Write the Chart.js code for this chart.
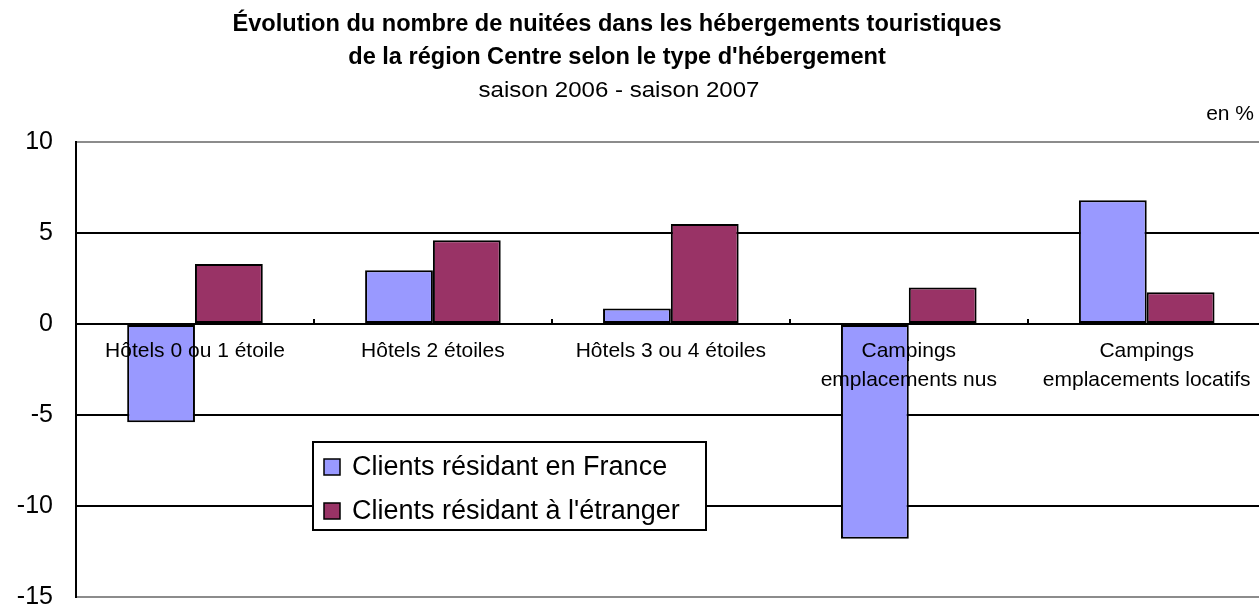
<!DOCTYPE html>
<html>
<head>
<meta charset="utf-8">
<script src="https://cdn.jsdelivr.net/npm/chart.js@4.4.0/dist/chart.umd.min.js"></script>
<style>
  html, body { margin: 0; padding: 0; background: #fff; overflow: hidden; }
  canvas { display: block; }
</style>
</head>
<body>
<canvas id="chart" width="1270" height="635"></canvas>
<script>
// chart data (in %)
const categories = [
    "Hôtels 0 ou 1 étoile",
    "Hôtels 2 étoiles",
    "Hôtels 3 ou 4 étoiles",
    ["Campings", "emplacements nus"],
    ["Campings", "emplacements locatifs"]
];
const seriesNames = ["Clients résidant en France", "Clients résidant à l'étranger"];
const franceValues = [-5.4, 2.95, 0.85, -11.8, 6.8];
const etrangerValues = [3.3, 4.6, 5.5, 2.0, 1.75];
const yMin = -15;
const yMax = 10;
const yStep = 5;

const titleLines = [
    "Évolution du nombre de nuitées dans les hébergements touristiques",
    "de la région Centre selon le type d'hébergement"
];
const subtitleText = "saison 2006 - saison 2007";
const unitText = "en %";

const FONT = "'Liberation Sans', Arial, sans-serif";

// titles, unit and the boxed legend are drawn on top of the chart
const extraText = {
    id: "extraText",
    afterDraw(chart) {
        const ctx = chart.ctx;
        ctx.save();
        ctx.fillStyle = "#000";
        ctx.textAlign = "center";
        ctx.textBaseline = "alphabetic";

        // condensed bold title
        ctx.font = "bold 23px " + FONT;
        const sx = 769 / ctx.measureText(titleLines[0]).width;
        titleLines.forEach((line, i) => {
            ctx.save();
            ctx.translate(617, 31 + i * 33);
            ctx.scale(sx, 1);
            ctx.fillText(line, 0, 0);
            ctx.restore();
        });

        ctx.font = "22px " + FONT;
        const ssx = 281 / ctx.measureText(subtitleText).width;
        ctx.save();
        ctx.translate(619, 97);
        ctx.scale(ssx, 1);
        ctx.fillText(subtitleText, 0, 0);
        ctx.restore();

        ctx.font = "21px " + FONT;
        ctx.textAlign = "right";
        ctx.fillText(unitText, 1254, 120);

        // legend box
        const lx = 313, ly = 442, lw = 393, lh = 88;
        ctx.fillStyle = "#fff";
        ctx.fillRect(lx, ly, lw, lh);
        ctx.strokeStyle = "#000";
        ctx.lineWidth = 2;
        ctx.strokeRect(lx, ly, lw, lh);

        ctx.font = "27px " + FONT;
        ctx.textAlign = "left";
        ctx.textBaseline = "middle";
        chart.data.datasets.forEach((ds, i) => {
            const cy = 467 + i * 44;
            ctx.fillStyle = ds.backgroundColor;
            ctx.fillRect(324, cy - 8, 16, 16);
            ctx.lineWidth = 1.5;
            ctx.strokeStyle = "#000";
            ctx.strokeRect(324, cy - 8, 16, 16);
            ctx.fillStyle = "#000";
            ctx.fillText(ds.label, 352, cy + 1);
        });
        ctx.restore();
    }
};

new Chart(document.getElementById("chart"), {
    type: "bar",
    data: {
        labels: categories,
        datasets: [
            {
                label: seriesNames[0],
                data: franceValues,
                backgroundColor: "#9999FF",
                borderColor: "#000",
                borderWidth: 2,
                borderSkipped: false
            },
            {
                label: seriesNames[1],
                data: etrangerValues,
                backgroundColor: "#993366",
                borderColor: "#000",
                borderWidth: 2,
                borderSkipped: false
            }
        ]
    },
    options: {
        responsive: false,
        devicePixelRatio: 1,
        animation: false,
        layout: { padding: { top: 142, bottom: 9, left: 0, right: 4 } },
        datasets: { bar: { categoryPercentage: 0.57, barPercentage: 1.0 } },
        plugins: {
            legend: { display: false },
            title: { display: false },
            tooltip: { enabled: false }
        },
        scales: {
            x: {
                position: { y: 0 },
                offset: true,
                afterFit: s => { s.height = 0; },
                border: { color: "#000", width: 2, z: 1 },
                // small upward tick marks between the categories
                grid: { drawOnChartArea: false, drawTicks: true, tickLength: -6, color: "#000", lineWidth: 2, z: 1 },
                ticks: {
                    z: 1,
                    color: "#000",
                    padding: 19,
                    maxRotation: 0,
                    autoSkip: false,
                    font: { family: FONT, size: 21, lineHeight: 1.38 }
                }
            },
            y: {
                min: yMin,
                max: yMax,
                afterFit: s => { s.width = 76; },
                border: { color: "#000", width: 2 },
                grid: {
                    drawTicks: false,
                    lineWidth: 2,
                    color: c => (c.tick && (c.tick.value === yMax || c.tick.value === yMin)) ? "#8c8c8c" : "#000"
                },
                ticks: {
                    stepSize: yStep,
                    color: "#000",
                    padding: 23,
                    font: { family: FONT, size: 25 }
                }
            }
        }
    },
    plugins: [extraText]
});
</script>
</body>
</html>
